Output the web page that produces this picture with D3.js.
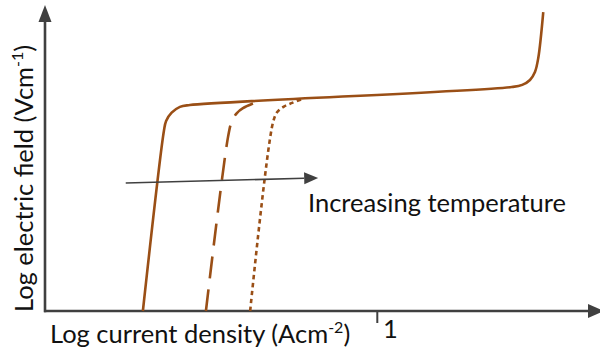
<!DOCTYPE html>
<html><head><meta charset="utf-8">
<script src="https://cdn.jsdelivr.net/npm/d3@7"></script>
<style>html,body{margin:0;padding:0;background:#fff;} svg{display:block;font-family:Lato,"Open Sans",sans-serif;}</style>
</head><body><svg id="chart" width="600" height="353"></svg>
<script>
// ---- data (log J, log E in arbitrary schematic units) ----
const xDomain = [-6, 4];
const yDomain = [0, 10];
const xTickValues = [0];
const xTickLabels = ["1"];
const seriesNames = ["lowest temperature", "middle temperature", "highest temperature"];
const solidCurve = [[-4.23,0],[-3.85,5.88],[-3.81,6.21],[-3.71,6.48],[-3.56,6.67],[-3.38,6.73],[2.44,7.32],[2.63,7.39],[2.77,7.55],[2.86,7.81],[2.92,8.27],[3.01,9.77]];
const dashedCurve = [[-3.09,0],[-2.69,5.69],[-2.62,6.21],[-2.53,6.47],[-2.42,6.63],[-2.17,6.83]];
const dottedCurve = [[-2.29,0],[-1.88,6.14],[-1.80,6.50],[-1.68,6.68],[-1.53,6.80],[-1.37,6.91]];
const tempArrow = [[-4.54,4.18],[-1.06,4.35]];
const tempLabel = "Increasing temperature";
const xLabelText = ["Log current density (Acm", "-2", ")"];
const yLabelText = ["Log electric field (Vcm", "-1", ")"];

const svg = d3.select("#chart");
const x = d3.scaleLinear().domain(xDomain).range([45, 598]);
const y = d3.scaleLinear().domain(yDomain).range([311, 5]);
const axisCol = "#404040", curveCol = "#9A4F16";
const fs = 25.5, fsSup = 16;

// axes
const xAx = svg.append("g").attr("transform", `translate(0,${y(0)})`)
  .call(d3.axisBottom(x).tickValues(xTickValues).tickFormat((d,i)=>xTickLabels[i]).tickSize(12).tickSizeOuter(0));
xAx.select(".domain").remove();
xAx.selectAll(".tick line").attr("stroke", axisCol).attr("stroke-width", 2);
xAx.selectAll(".tick text").attr("font-size", fs).attr("font-family","Lato,'Open Sans',sans-serif")
  .attr("fill","#111").attr("text-anchor","middle").attr("x", 13).attr("y", 27).attr("dy", 0);

const yAx = svg.append("g").attr("transform", `translate(${x(-6)},0)`)
  .call(d3.axisLeft(y).tickValues([]).tickSizeOuter(0));
yAx.select(".domain").remove();

// axis lines with arrowheads
const x0 = x(xDomain[0]), y0 = y(0);
svg.append("line").attr("x1", x0 - 1).attr("y1", y0).attr("x2", 590).attr("y2", y0)
  .attr("stroke", axisCol).attr("stroke-width", 2.6);
svg.append("path").attr("d", `M604,${y0} L588,${y0-7} L588,${y0+7} Z`).attr("fill", axisCol);
svg.append("line").attr("x1", x0).attr("y1", y0 + 1.3).attr("x2", x0).attr("y2", 20)
  .attr("stroke", axisCol).attr("stroke-width", 2.6);
svg.append("path").attr("d", `M${x0},5 L${x0-6.5},22 L${x0+6.5},22 Z`).attr("fill", axisCol);

// curves
const line = d3.line().x(d=>x(d[0])).y(d=>y(d[1])).curve(d3.curveCatmullRom.alpha(0.5));
const curves = [
  {name: seriesNames[0], data: solidCurve, dash: null},
  {name: seriesNames[1], data: dashedCurve, dash: "22,11"},
  {name: seriesNames[2], data: dottedCurve, dash: "4.5,3.5"}
];
svg.selectAll("path.curve").data(curves).join("path").attr("class","curve")
  .attr("d", d=>line(d.data)).attr("fill","none").attr("stroke", curveCol)
  .attr("stroke-width", 2.6).attr("stroke-dasharray", d=>d.dash).attr("stroke-linecap","butt");

// temperature arrow
const ax1 = x(tempArrow[0][0]), ay1 = y(tempArrow[0][1]), ax2 = x(tempArrow[1][0]), ay2 = y(tempArrow[1][1]);
const ang = Math.atan2(ay2-ay1, ax2-ax1);
const hl = 14, hw = 6;
svg.append("line").attr("x1", ax1).attr("y1", ay1)
  .attr("x2", ax2 - hl*Math.cos(ang)).attr("y2", ay2 - hl*Math.sin(ang))
  .attr("stroke", axisCol).attr("stroke-width", 1.5);
const bx = ax2 - hl*Math.cos(ang), by = ay2 - hl*Math.sin(ang);
svg.append("path").attr("d", `M${ax2},${ay2} L${bx - hw*Math.sin(ang)},${by + hw*Math.cos(ang)} L${bx + hw*Math.sin(ang)},${by - hw*Math.cos(ang)} Z`)
  .attr("fill", axisCol);

svg.append("text").attr("x", 308).attr("y", 212).attr("font-size", fs).attr("fill","#111").text(tempLabel);

// axis titles
const xl = svg.append("text").attr("x", 50).attr("y", 343).attr("font-size", fs).attr("fill","#111");
xl.append("tspan").text(xLabelText[0]);
xl.append("tspan").attr("font-size", fsSup).attr("dy", -10).text(xLabelText[1]);
xl.append("tspan").attr("dy", 10).text(xLabelText[2]);

const yl = svg.append("text").attr("transform", "translate(33,312) rotate(-90)").attr("font-size", fs).attr("fill","#111");
yl.append("tspan").text(yLabelText[0]);
yl.append("tspan").attr("font-size", fsSup).attr("dy", -10).text(yLabelText[1]);
yl.append("tspan").attr("dy", 10).text(yLabelText[2]);
</script></body></html>
